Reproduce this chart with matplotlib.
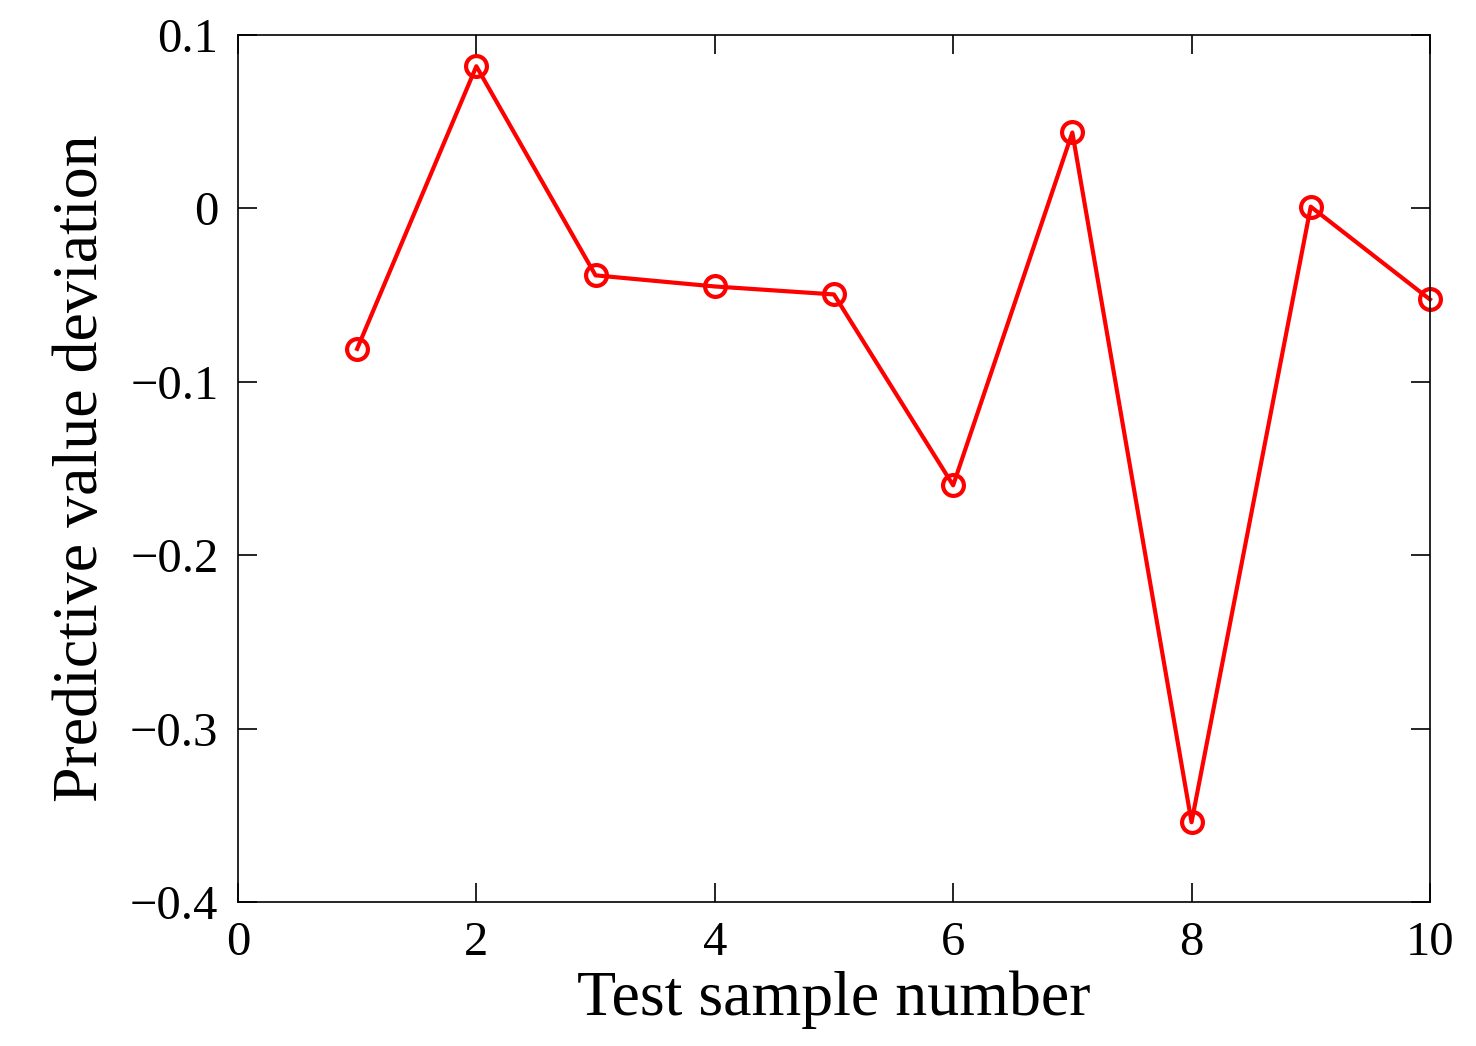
import matplotlib
matplotlib.use("Agg")
import matplotlib.pyplot as plt

x = [1, 2, 3, 4, 5, 6, 7, 8, 9, 10]
y = [-0.081, 0.082, -0.0386, -0.045, -0.0496, -0.1597, 0.0438, -0.354, 0.001, -0.0525]
xticks = [0, 2, 4, 6, 8, 10]
yticks = [-0.4, -0.3, -0.2, -0.1, 0, 0.1]

plt.rcParams['font.family'] = ['Liberation Serif', 'DejaVu Serif']
fig = plt.figure(figsize=(14.76, 10.46), dpi=100)
ax = fig.add_axes([0.1612, 0.1377, 0.8076, 0.8288])
ax.plot(x, y, color='red', lw=3, marker='o', ms=15, mfc='none', mec='red', mew=3, clip_on=False)
ax.set_xlim(0, 10)
ax.set_ylim(-0.4, 0.1)
ax.set_xticks(xticks)
ax.set_yticks(yticks)
ax.set_xticklabels([str(t) for t in xticks])
ax.set_yticklabels(['\u22120.4', '\u22120.3', '\u22120.2', '\u22120.1', '0', '0.1'])
ax.tick_params(direction='in', top=True, right=True, length=14, width=1.2, labelsize=35, pad=14)
for s in ax.spines.values():
    s.set_linewidth(1.2)
ax.set_xlabel('Test sample number', fontsize=46, labelpad=4)
ax.set_ylabel('Predictive value deviation', fontsize=46, labelpad=14)
fig.savefig('out.png', dpi=100)
